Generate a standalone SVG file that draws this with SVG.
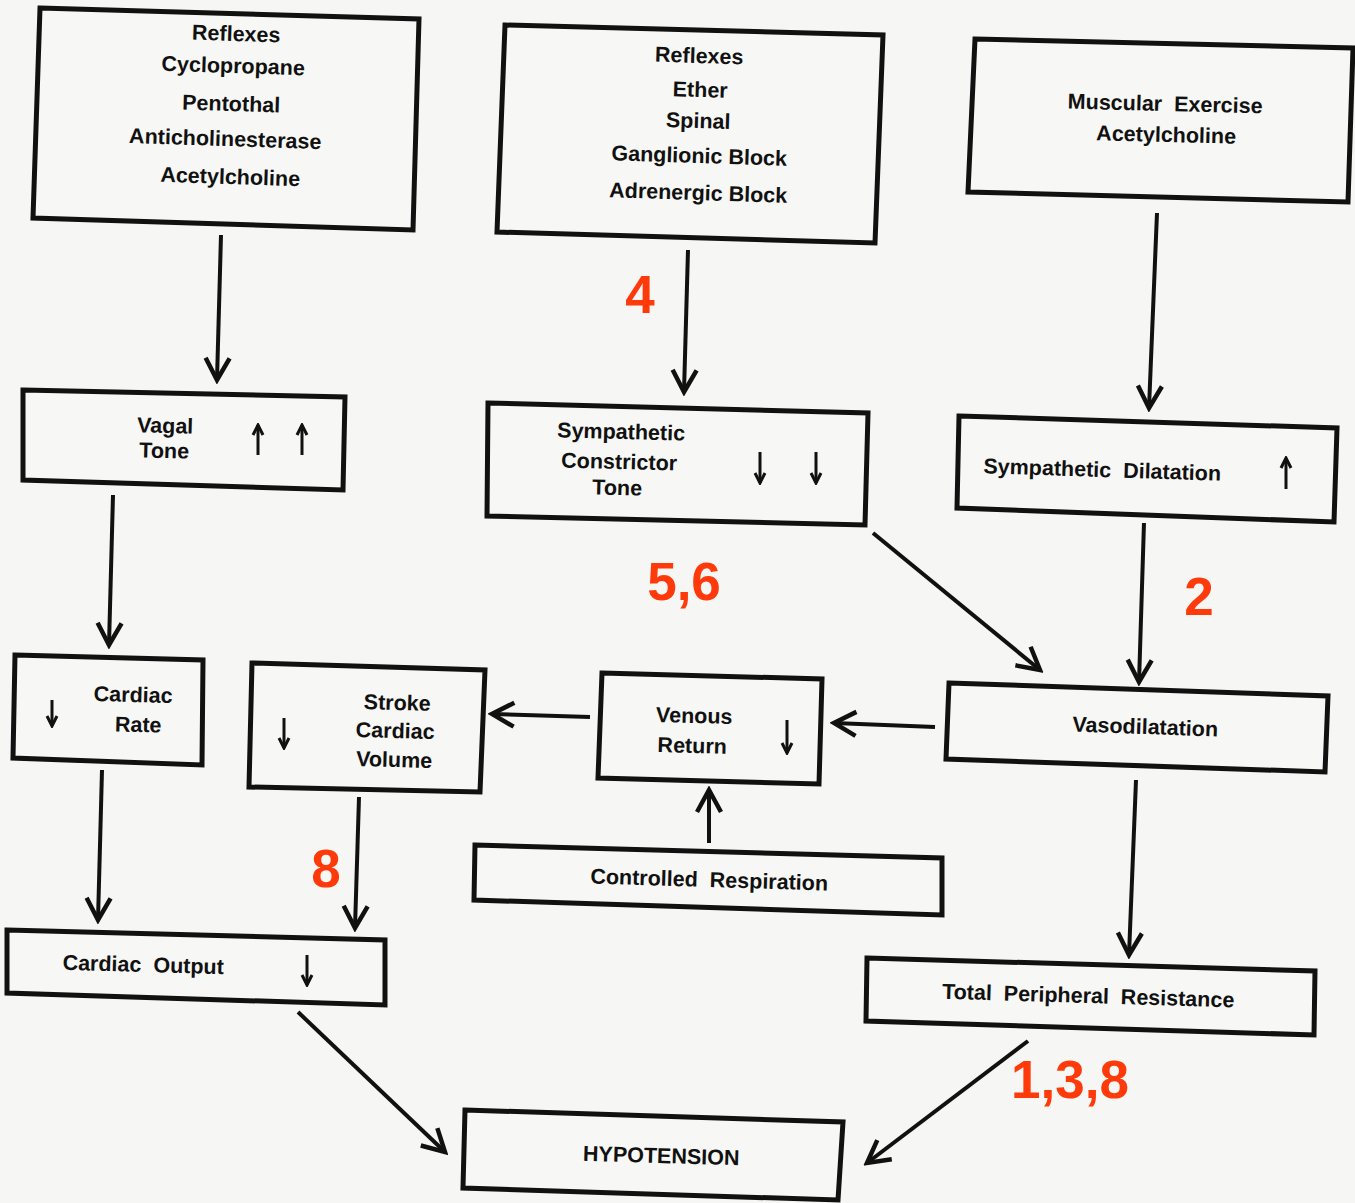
<svg xmlns="http://www.w3.org/2000/svg" width="1355" height="1203" viewBox="0 0 1355 1203">
<style>
.bg{fill:#f6f6f4}
.box{fill:#f7f7f5;stroke:#111;stroke-width:5;stroke-linejoin:miter}
.t{font-family:"Liberation Sans",Arial,sans-serif;font-weight:bold;font-size:21.5px;fill:#111;text-anchor:middle}
.r{font-family:"Liberation Sans",Arial,sans-serif;font-weight:bold;font-size:53px;fill:#ff3a0a;text-anchor:middle}
.c{stroke:#111;stroke-width:4;fill:none;marker-end:url(#ah)}
.s{stroke:#111;stroke-width:3;fill:none;marker-end:url(#sh)}
</style>
<defs>
<marker id="ah" markerUnits="userSpaceOnUse" viewBox="-28 -16 32 32" refX="0" refY="0" markerWidth="32" markerHeight="32" orient="auto">
<path d="M-22,-12 L0,0 L-22,12" fill="none" stroke="#111" stroke-width="4.5"/>
</marker>
<marker id="sh" markerUnits="userSpaceOnUse" viewBox="-14 -8 16 16" refX="0" refY="0" markerWidth="16" markerHeight="16" orient="auto">
<path d="M-10,-5 L0,0 L-10,5" fill="none" stroke="#111" stroke-width="3"/>
</marker>
</defs>
<rect class="bg" x="0" y="0" width="1355" height="1203"/>

<g id="connectors">
<line class="c" x1="221" y1="235" x2="217" y2="380"/>
<line class="c" x1="688" y1="250" x2="684" y2="392"/>
<line class="c" x1="1157" y1="213" x2="1149" y2="408"/>
<line class="c" x1="113" y1="495" x2="109" y2="645"/>
<line class="c" x1="873" y1="533" x2="1040" y2="670"/>
<line class="c" x1="1144" y1="523" x2="1139" y2="682"/>
<line class="c" x1="935" y1="727" x2="834" y2="723"/>
<line class="c" x1="590" y1="717" x2="492" y2="714"/>
<line class="c" x1="709" y1="843" x2="709" y2="790"/>
<line class="c" x1="102" y1="770" x2="98" y2="920"/>
<line class="c" x1="359" y1="797" x2="355" y2="928"/>
<line class="c" x1="1136" y1="780" x2="1129" y2="955"/>
<line class="c" x1="298" y1="1012" x2="445" y2="1152"/>
<line class="c" x1="1028" y1="1041" x2="867" y2="1163"/>
</g>

<g id="n-top-left">
<polygon class="box" points="40,8 419,19 413,230 33,218"/>
<text class="t" x="236" y="41" transform="rotate(1.8 236 41)">Reflexes</text>
<text class="t" x="233" y="73" transform="rotate(1.8 233 73)">Cyclopropane</text>
<text class="t" x="231" y="111" transform="rotate(1.8 231 111)">Pentothal</text>
<text class="t" x="225" y="146" transform="rotate(1.8 225 146)">Anticholinesterase</text>
<text class="t" x="230" y="184" transform="rotate(1.8 230 184)">Acetylcholine</text>
</g>

<g id="n-top-mid">
<polygon class="box" points="505,25 883,35 875,243 497,232"/>
<text class="t" x="699" y="63" transform="rotate(1.8 699 63)">Reflexes</text>
<text class="t" x="700" y="97" transform="rotate(1.8 700 97)">Ether</text>
<text class="t" x="698" y="128" transform="rotate(1.8 698 128)">Spinal</text>
<text class="t" x="699" y="163" transform="rotate(1.8 699 163)">Ganglionic Block</text>
<text class="t" x="698" y="200" transform="rotate(1.8 698 200)">Adrenergic Block</text>
</g>

<g id="n-top-right">
<polygon class="box" points="975,39 1353,48 1348,202 968,192"/>
<text class="t" x="1165" y="111" transform="rotate(1.4 1165 111)" xml:space="preserve">Muscular  Exercise</text>
<text class="t" x="1166" y="142" transform="rotate(1.4 1166 142)">Acetylcholine</text>
</g>

<g id="n-vagal">
<polygon class="box" points="23,390 345,397 343,490 23,480"/>
<text class="t" x="165" y="433" transform="rotate(1.5 165 433)">Vagal</text>
<text class="t" x="164" y="458" transform="rotate(1.5 164 458)">Tone</text>
<line class="s" x1="258" y1="455" x2="258" y2="425"/>
<line class="s" x1="302" y1="455" x2="302" y2="425"/>
</g>

<g id="n-sct">
<polygon class="box" points="488,403 868,413 865,525 487,516"/>
<text class="t" x="621" y="439" transform="rotate(1.5 621 439)">Sympathetic</text>
<text class="t" x="619" y="469" transform="rotate(1.5 619 469)">Constrictor</text>
<text class="t" x="617" y="495" transform="rotate(1.5 617 495)">Tone</text>
<line class="s" x1="760" y1="452" x2="760" y2="483"/>
<line class="s" x1="816" y1="452" x2="816" y2="483"/>
</g>

<g id="n-sd">
<polygon class="box" points="959,416 1337,428 1334,522 957,508"/>
<text class="t" x="1102" y="477" transform="rotate(1.8 1102 477)" xml:space="preserve">Sympathetic  Dilatation</text>
<line class="s" x1="1286" y1="489" x2="1286" y2="458"/>
</g>

<g id="n-cardiac-rate">
<polygon class="box" points="15,655 203,660 202,765 13,758"/>
<text class="t" x="133" y="702" transform="rotate(1.5 133 702)">Cardiac</text>
<text class="t" x="138" y="732" transform="rotate(1.5 138 732)">Rate</text>
<line class="s" x1="52" y1="700" x2="52" y2="726"/>
</g>

<g id="n-stroke">
<polygon class="box" points="252,663 485,670 480,792 249,787"/>
<text class="t" x="397" y="710" transform="rotate(1.5 397 710)">Stroke</text>
<text class="t" x="395" y="738" transform="rotate(1.5 395 738)">Cardiac</text>
<text class="t" x="394" y="767" transform="rotate(1.5 394 767)">Volume</text>
<line class="s" x1="284" y1="718" x2="284" y2="748"/>
</g>

<g id="n-venous">
<polygon class="box" points="602,673 822,679 819,784 598,778"/>
<text class="t" x="694" y="723" transform="rotate(1.5 694 723)">Venous</text>
<text class="t" x="692" y="753" transform="rotate(1.5 692 753)">Return</text>
<line class="s" x1="787" y1="720" x2="787" y2="753"/>
</g>

<g id="n-vaso">
<polygon class="box" points="949,683 1328,696 1325,772 946,759"/>
<text class="t" x="1145" y="734" transform="rotate(2 1145 734)">Vasodilatation</text>
</g>

<g id="n-resp">
<polygon class="box" points="475,845 942,858 942,915 474,900"/>
<text class="t" x="709" y="887" transform="rotate(1.7 709 887)" xml:space="preserve">Controlled  Respiration</text>
</g>

<g id="n-output">
<polygon class="box" points="7,930 385,940 385,1005 7,993"/>
<text class="t" x="143" y="972" transform="rotate(1.6 143 972)" xml:space="preserve">Cardiac  Output</text>
<line class="s" x1="307" y1="955" x2="307" y2="985"/>
</g>

<g id="n-tpr">
<polygon class="box" points="867,958 1315,971 1314,1035 866,1021"/>
<text class="t" x="1088" y="1003" transform="rotate(1.7 1088 1003)" xml:space="preserve">Total  Peripheral  Resistance</text>
</g>

<g id="n-hypo">
<polygon class="box" points="465,1110 843,1122 838,1200 463,1188"/>
<text class="t" x="661" y="1163" transform="rotate(1.7 661 1163)">HYPOTENSION</text>
</g>

<g id="labels">
<text class="r" x="640" y="313">4</text>
<text class="r" x="684" y="600">5,6</text>
<text class="r" x="1199" y="615">2</text>
<text class="r" x="326" y="887">8</text>
<text class="r" x="1070" y="1098">1,3,8</text>
</g>
</svg>
